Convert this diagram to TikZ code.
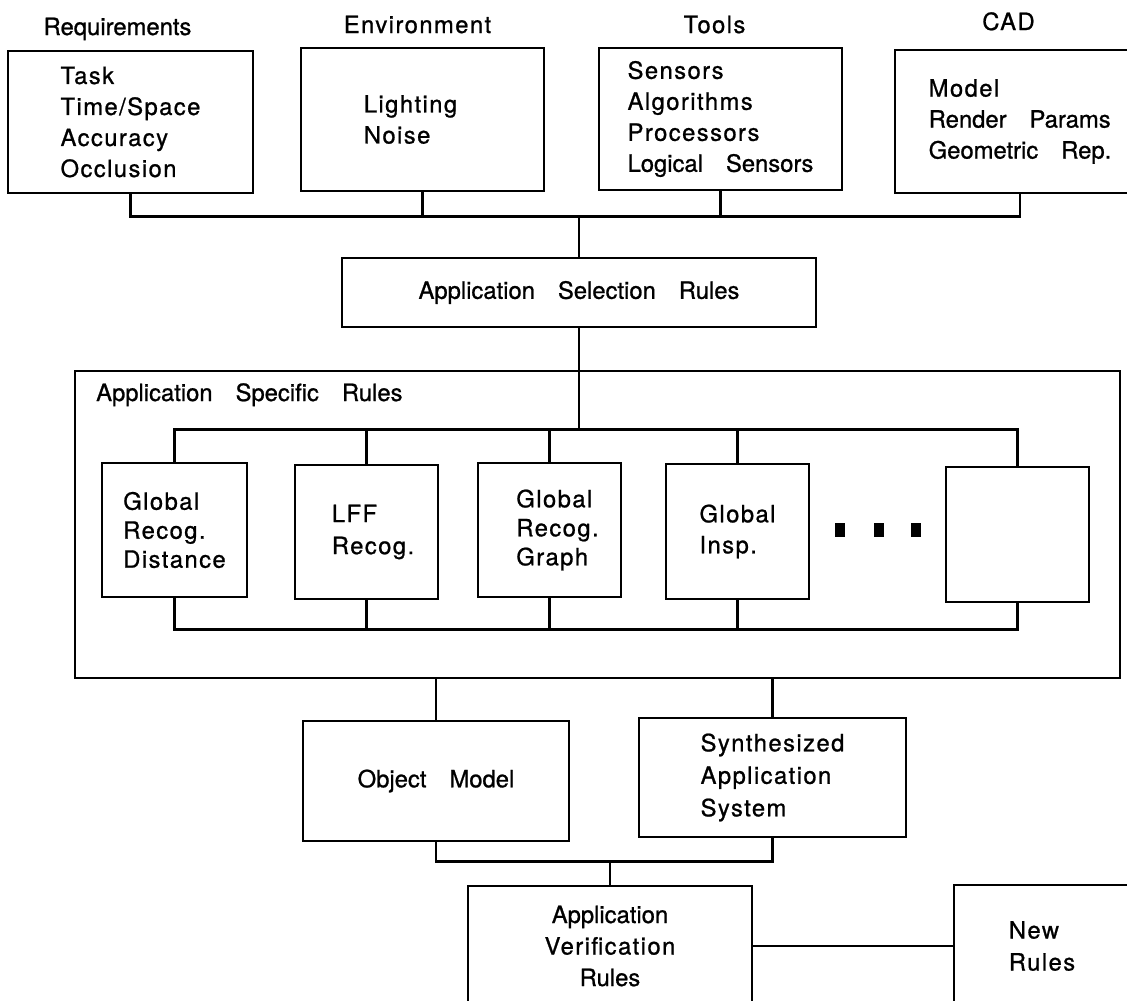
\documentclass[tikz,border=0pt]{standalone}
\usepackage{fontspec}
\setmainfont{TeX Gyre Heros}[FakeBold=0.9]
\newfontfamily\trackedfont{TeX Gyre Heros}[LetterSpace=6, FakeBold=0.9]
\usetikzlibrary{calc}
\newcommand\wordgap{\hspace{23pt}}

\tikzset{
  box/.style={draw, line width=2.7pt, inner sep=0pt, align=left,
    font=\fontsize{23.8}{31}\selectfont},
  link/.style={line width=2.7pt},
  heading/.style={anchor=base, inner sep=0pt, font=\fontsize{23.8}{28}\selectfont},
  dotmark/.style={fill=black, inner sep=0pt, minimum width=10pt, minimum height=14pt}
}

\begin{document}
\begin{tikzpicture}[x=1pt, y=-1pt]
\useasboundingbox (0,0) rectangle (1127,1001);

% column headings
\node[heading] (lreq)   at (117.5,35) {Requirements};
\node[heading] (lenv)   at (417.5,33) {\trackedfont Environment};
\node[heading] (ltools) at (714.5,33) {\trackedfont Tools};
\node[heading] (lcad)   at (1008.5,30) {\trackedfont CAD};

% input boxes
\node[box, minimum width=245pt, minimum height=142pt] (req) at (130.5,122)
  {\trackedfont Task\\\trackedfont Time/Space\\\trackedfont Accuracy\\\trackedfont Occlusion};
\node[box, minimum width=243pt, minimum height=143pt] (env) at (422.5,119.5)
  {\trackedfont Lighting\hspace*{24pt}\\\trackedfont Noise};
\node[box, minimum width=243pt, minimum height=142pt] (tools) at (720.5,119)
  {\trackedfont Sensors\\\trackedfont Algorithms\\\trackedfont Processors\\Logical\wordgap Sensors};
\node[box, minimum width=250pt, minimum height=143pt] (cad) at (1020,121.5)
  {\trackedfont Model\\Render\wordgap Params\\Geometric\wordgap Rep.};

% selection stage
\node[box, minimum width=474pt, minimum height=69pt] (asr) at (579,292.5)
  {Application\wordgap Selection\wordgap Rules};

% application specific rule set
\node[box, minimum width=1045pt, minimum height=307pt] (outer) at (597.5,524.5) {};
\node[anchor=base west, inner sep=0pt, font=\fontsize{23.8}{28}\selectfont] (astitle) at (96,401)
  {Application\wordgap Specific\wordgap Rules};

\node[box, minimum width=145pt, minimum height=134pt, font=\fontsize{23.8}{29}\selectfont] (b1) at (174.5,530)
  {\trackedfont Global\\\trackedfont Recog.\\\trackedfont Distance};
\node[box, minimum width=143pt, minimum height=134pt, font=\fontsize{23.8}{32}\selectfont] (b2) at (366.5,532)
  {\hspace*{13pt}\trackedfont LFF\\\hspace*{13pt}\trackedfont Recog.};
\node[box, minimum width=143pt, minimum height=134pt, font=\fontsize{23.8}{29}\selectfont] (b3) at (549.5,530)
  {\hspace*{16pt}\trackedfont Global\\\hspace*{16pt}\trackedfont Recog.\\\hspace*{16pt}\trackedfont Graph};
\node[box, minimum width=143pt, minimum height=135pt] (b4) at (737.5,531.5)
  {\trackedfont Global\\\trackedfont Insp.};
\node[box, minimum width=143pt, minimum height=135pt] (b5) at (1017.5,534.5) {};

\node[dotmark] (d1) at (840,530) {};
\node[dotmark] (d2) at (879,530) {};
\node[dotmark] (d3) at (916,530) {};

% results
\node[box, minimum width=266pt, minimum height=120pt] (om) at (436,781)
  {Object\wordgap Model};
\node[box, minimum width=267pt, minimum height=119pt, font=\fontsize{23.8}{32.5}\selectfont] (sas) at (772.5,777.5)
  {\trackedfont Synthesized\\\trackedfont Application\\\trackedfont System};

% verification
\node[box, align=center, minimum width=284pt, minimum height=120pt, font=\fontsize{23.8}{31.5}\selectfont] (avr) at (610,946)
  {Application\\\trackedfont Verification\\Rules};
\node[box, minimum width=176pt, minimum height=122pt, font=\fontsize{23.8}{32}\selectfont] (nr) at (1042,946)
  {\trackedfont New\\\trackedfont Rules};

% connectors: inputs to selection rules
\coordinate (topbus) at ($(asr.north)+(0,-40)$);
\draw[link] (req.south) |- (topbus) -| (cad.south);
\draw[link] (env.south) -- (env.south |- topbus);
\draw[link] (tools.south) -- (tools.south |- topbus);
\draw[link] (topbus) -- (asr.north);

% selection rules to the individual rule boxes
\coordinate (inbus) at ($(asr.south)+(0,101)$);
\draw[link] (asr.south) -- (inbus);
\draw[link] (b1.north) |- (inbus) -| (b5.north);
\foreach \b in {b2,b3,b4}
  \draw[link] (\b.north) -- (\b.north |- inbus);

\coordinate (outbus) at ($(b3.south)+(0,31)$);
\draw[link] (b1.south) |- (outbus) -| (b5.south);
\foreach \b in {b2,b3,b4}
  \draw[link] (\b.south) -- (\b.south |- outbus);

% rule set to its products
\draw[link] (outer.south -| om.north) -- (om.north);
\draw[link] (outer.south -| sas.north) -- (sas.north);

% products to verification
\coordinate (lowbus) at ($(avr.north)+(0,-23)$);
\draw[link] (om.south) |- (lowbus) -| (sas.south);
\draw[link] (lowbus) -- (avr.north);
\draw[link] (avr.east) -- (nr.west);
\end{tikzpicture}
\end{document}
